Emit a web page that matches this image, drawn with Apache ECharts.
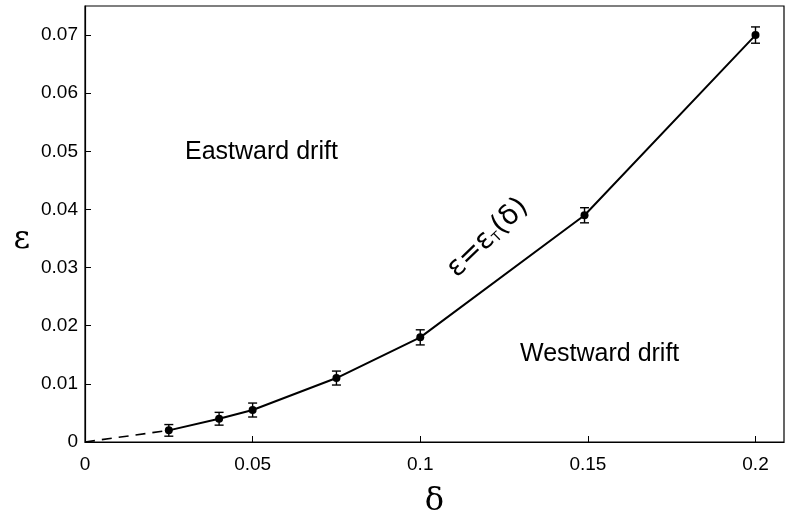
<!DOCTYPE html>
<html>
<head>
<meta charset="utf-8">
<script src="https://cdn.jsdelivr.net/npm/echarts@6/dist/echarts.min.js"></script>
<style>
  html, body { margin: 0; padding: 0; background: #fff; }
  #chart { width: 785px; height: 522px; }
</style>
</head>
<body>
<div id="chart"></div>
<script>
// Threshold curve eps_T(delta) with error bars
const deltas   = [0.025, 0.04, 0.05, 0.075, 0.1, 0.149, 0.2];
const epsT     = [0.002, 0.004, 0.0055, 0.011, 0.018, 0.039, 0.070];
const epsErr   = [0.001, 0.0011, 0.0012, 0.0012, 0.0013, 0.0013, 0.0014];
// Extrapolated segment toward the origin
const extrapX  = [0, 0.025];
const extrapY  = [0, 0.002];
const xTicks   = [0, 0.05, 0.1, 0.15, 0.2];
const yTicks   = [0, 0.01, 0.02, 0.03, 0.04, 0.05, 0.06, 0.07];

const FONT = 'Liberation Sans, Arial, sans-serif';
const chart = echarts.init(document.getElementById('chart'));

const mainPts = deltas.map((d, i) => [d, epsT[i]]);
const errData = deltas.map((d, i) => [d, epsT[i] - epsErr[i], epsT[i] + epsErr[i]]);

const axisCommon = {
  axisLine: { show: true, onZero: false, lineStyle: { color: '#000', width: 1.2 } },
  axisTick: { show: true, inside: true, length: 6, lineStyle: { color: '#000' } },
  splitLine: { show: false },
};

chart.setOption({
  animation: false,
  grid: {
    left: 85, right: 1, top: 6, bottom: 80, containLabel: false, outerBoundsMode: 'none',
    show: true, borderColor: '#000', borderWidth: 1.2
  },
  xAxis: Object.assign({
    type: 'value', min: 0, max: 0.2085, interval: 0.05,
    axisLabel: {
      color: '#000', fontFamily: FONT, fontSize: 19, margin: 13,
      formatter: v => xTicks.some(t => Math.abs(t - v) < 1e-9) ? String(+v.toFixed(3)) : '',
      showMaxLabel: false
    },
    name: 'δ', nameLocation: 'middle', nameGap: 44,
    nameTextStyle: { color: '#000', fontFamily: 'DejaVu Serif, serif', fontSize: 32, verticalAlign: 'top' }
  }, axisCommon),
  yAxis: Object.assign({
    type: 'value', min: 0, max: 0.075, interval: 0.01,
    axisLabel: {
      color: '#000', fontFamily: FONT, fontSize: 19, margin: 7,
      formatter: v => yTicks.some(t => Math.abs(t - v) < 1e-9) ? String(+v.toFixed(3)) : '',
      showMaxLabel: false
    },
    name: 'ε', nameLocation: 'middle', nameGap: 55, nameRotate: 0,
    nameTextStyle: { color: '#000', fontFamily: 'DejaVu Serif, serif', fontSize: 32, verticalAlign: 'top' }
  }, axisCommon),
  series: [
    {
      type: 'line', data: extrapX.map((x, i) => [x, extrapY[i]]),
      showSymbol: false, lineStyle: { color: '#000', width: 1.6, type: [10, 7] }, z: 2
    },
    {
      type: 'line', data: mainPts, symbol: 'circle', symbolSize: 8,
      itemStyle: { color: '#000' }, lineStyle: { color: '#000', width: 2 }, z: 3
    },
    {
      type: 'custom', data: errData, z: 4,
      renderItem: (params, api) => {
        const x = api.value(0);
        const lo = api.coord([x, api.value(1)]);
        const hi = api.coord([x, api.value(2)]);
        const w = 4.5;
        const st = { stroke: '#000', lineWidth: 1.4 };
        return {
          type: 'group',
          children: [
            { type: 'line', shape: { x1: lo[0], y1: lo[1], x2: hi[0], y2: hi[1] }, style: st },
            { type: 'line', shape: { x1: lo[0] - w, y1: lo[1], x2: lo[0] + w, y2: lo[1] }, style: st },
            { type: 'line', shape: { x1: hi[0] - w, y1: hi[1], x2: hi[0] + w, y2: hi[1] }, style: st }
          ]
        };
      }
    }
  ],
  graphic: [
    { type: 'text', left: 185, top: 140, style: { text: 'Eastward drift', font: '25px ' + FONT, fill: '#000' } },
    { type: 'text', left: 520, top: 342, style: { text: 'Westward drift', font: '25px ' + FONT, fill: '#000' } },
    {
      type: 'text', x: 488, y: 238, rotation: 44 * Math.PI / 180,
      style: {
        text: '{a|ε=ε}{s|T}{a|(δ)}', align: 'center', verticalAlign: 'middle',
        rich: {
          a: { font: '28px DejaVu Sans, sans-serif', fill: '#000' },
          s: { font: '13px DejaVu Sans, sans-serif', fill: '#000', padding: [12, 0, 0, 0] }
        }
      }
    }
  ]
});
</script>
</body>
</html>
